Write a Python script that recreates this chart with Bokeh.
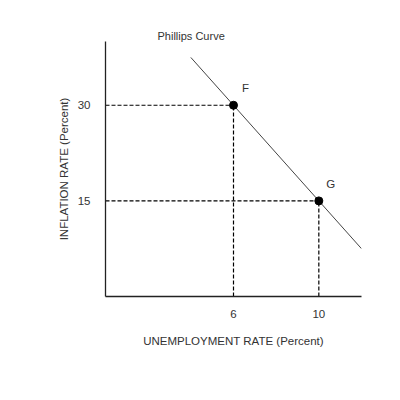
from bokeh.plotting import figure
from bokeh.models import Range1d, FixedTicker, Label, ColumnDataSource
from bokeh.embed import file_html
from bokeh.resources import INLINE

# data
point_names = ["F", "G"]
unemployment = [6, 10]
inflation = [30, 15]
curve_x = [4, 12]
curve_y = [37.5, 7.5]
x_ticks = [6, 10]
y_ticks = [15, 30]

FONT = "Liberation Sans"
TXT = "#333333"
FS = "11.5px"

p = figure(width=392, height=392, output_backend="svg", toolbar_location=None,
           x_range=Range1d(0, 12), y_range=Range1d(0, 40),
           title="Phillips Curve",
           min_border_left=105, min_border_right=31, min_border_top=41, min_border_bottom=96)
p.outline_line_color = None
p.xgrid.visible = False
p.ygrid.visible = False
p.background_fill_color = "white"

p.title.align = "left"
p.title.offset = 52
p.title.standoff = 0
p.title.text_font = FONT
p.title.text_font_size = "11px"
p.title.text_font_style = "normal"
p.title.text_color = TXT

for ax in (p.xaxis, p.yaxis):
    ax.major_tick_line_color = None
    ax.minor_tick_line_color = None
    ax.axis_line_color = "#222222"
    ax.axis_line_width = 1.3
    ax.major_label_text_font = FONT
    ax.major_label_text_font_size = FS
    ax.major_label_text_color = TXT
    ax.axis_label_text_font = FONT
    ax.axis_label_text_font_size = FS
    ax.axis_label_text_font_style = "normal"
    ax.axis_label_text_color = TXT

p.xaxis.ticker = FixedTicker(ticks=x_ticks)
p.yaxis.ticker = FixedTicker(ticks=y_ticks)
p.xaxis.major_label_standoff = 7
p.yaxis.major_label_standoff = 9
p.xaxis.axis_label = "UNEMPLOYMENT RATE (Percent)"
p.yaxis.axis_label = "INFLATION RATE (Percent)"
p.xaxis.axis_label_standoff = 14
p.yaxis.axis_label_standoff = 5

# dashed guides
for xv, yv in zip(unemployment, inflation):
    p.line([0, xv], [yv, yv], line_color="black", line_dash="4 2", line_width=1.2)
    p.line([xv, xv], [0, yv], line_color="black", line_dash="4 2", line_width=1.2)

# Phillips curve
p.line(curve_x, curve_y, line_color="#444444", line_width=1)

src = ColumnDataSource(dict(x=unemployment, y=inflation, name=point_names))
p.scatter("x", "y", source=src, size=8, color="black")

for nm, xv, yv in zip(point_names, unemployment, inflation):
    p.add_layout(Label(x=xv, y=yv, text=nm, x_offset=12, y_offset=17,
                       text_font=FONT, text_font_size=FS, text_color=TXT,
                       text_align="center", text_baseline="middle"))

open("out.html", "w").write(file_html(p, INLINE))
